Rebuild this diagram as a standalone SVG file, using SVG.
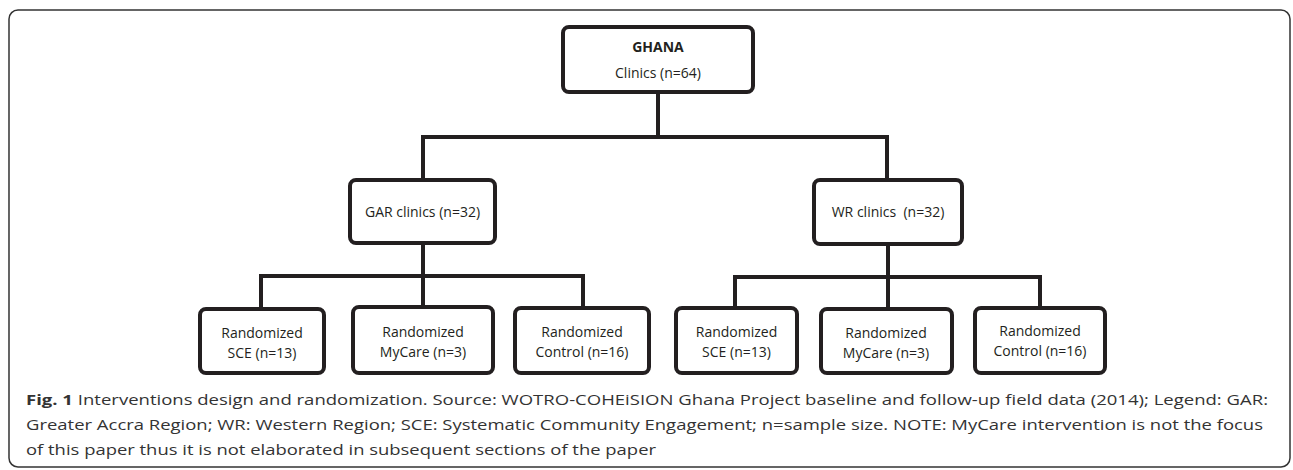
<svg xmlns="http://www.w3.org/2000/svg" width="1293" height="470" viewBox="0 0 1293 470">
<style>
.box{fill:#fff;stroke:#231f20;stroke-width:4;}
.lbl{font-family:"Open Sans","Noto Sans",sans-serif;font-size:14px;fill:#231f20;text-anchor:middle;}
.b{font-weight:bold;}
.con{fill:none;stroke:#231f20;stroke-width:4;stroke-linecap:square;stroke-linejoin:miter;}
.cap{font-family:"Open Sans","Noto Sans",sans-serif;font-size:15px;fill:#333;}
</style>
<rect x="9" y="10" width="1281" height="457" rx="9" fill="#fff" stroke="#333" stroke-width="1.5"/>
<g id="connectors">
<path class="con" d="M658 92V137M423 180V137H887V180"/>
<path class="con" d="M423 243V307M261 309V276H583V308"/>
<path class="con" d="M888 244V307M735 308V277H1040V308"/>
</g>
<g id="ghana"><rect class="box" x="563" y="27" width="190" height="65" rx="6"/>
<text class="lbl b" x="658" y="52">GHANA</text>
<text class="lbl" x="658" y="78">Clinics (n=64)</text></g>
<g id="gar"><rect class="box" x="350" y="180" width="145" height="63" rx="6"/>
<text class="lbl" x="422.5" y="217">GAR clinics (n=32)</text></g>
<g id="wr"><rect class="box" x="814" y="180" width="148" height="64" rx="6"/>
<text class="lbl" x="888" y="217" xml:space="preserve">WR clinics  (n=32)</text></g>
<g id="gar-sce"><rect class="box" x="200" y="309" width="124" height="64" rx="6"/>
<text class="lbl" x="262" y="338">Randomized</text><text class="lbl" x="262" y="358">SCE (n=13)</text></g>
<g id="gar-mycare"><rect class="box" x="353" y="307" width="140" height="66" rx="6"/>
<text class="lbl" x="423" y="337">Randomized</text><text class="lbl" x="423" y="357">MyCare (n=3)</text></g>
<g id="gar-control"><rect class="box" x="515" y="308" width="134" height="65" rx="6"/>
<text class="lbl" x="582" y="337">Randomized</text><text class="lbl" x="582" y="357">Control (n=16)</text></g>
<g id="wr-sce"><rect class="box" x="676" y="308" width="121" height="65" rx="6"/>
<text class="lbl" x="736.5" y="337">Randomized</text><text class="lbl" x="736.5" y="357">SCE (n=13)</text></g>
<g id="wr-mycare"><rect class="box" x="821" y="309" width="131" height="64" rx="6"/>
<text class="lbl" x="886" y="338">Randomized</text><text class="lbl" x="886" y="358">MyCare (n=3)</text></g>
<g id="wr-control"><rect class="box" x="975" y="308" width="130" height="65" rx="6"/>
<text class="lbl" x="1040" y="336">Randomized</text><text class="lbl" x="1040" y="356">Control (n=16)</text></g>
<g id="caption">
<text class="cap" x="26" y="405" textLength="1242" lengthAdjust="spacingAndGlyphs"><tspan font-weight="bold">Fig. 1</tspan> Interventions design and randomization. Source: WOTRO-COHEiSION Ghana Project baseline and follow-up field data (2014); Legend: GAR:</text>
<text class="cap" x="26" y="430" textLength="1237" lengthAdjust="spacingAndGlyphs">Greater Accra Region; WR: Western Region; SCE: Systematic Community Engagement; n=sample size. NOTE: MyCare intervention is not the focus</text>
<text class="cap" x="26" y="455" textLength="630" lengthAdjust="spacingAndGlyphs">of this paper thus it is not elaborated in subsequent sections of the paper</text>
</g>
</svg>
